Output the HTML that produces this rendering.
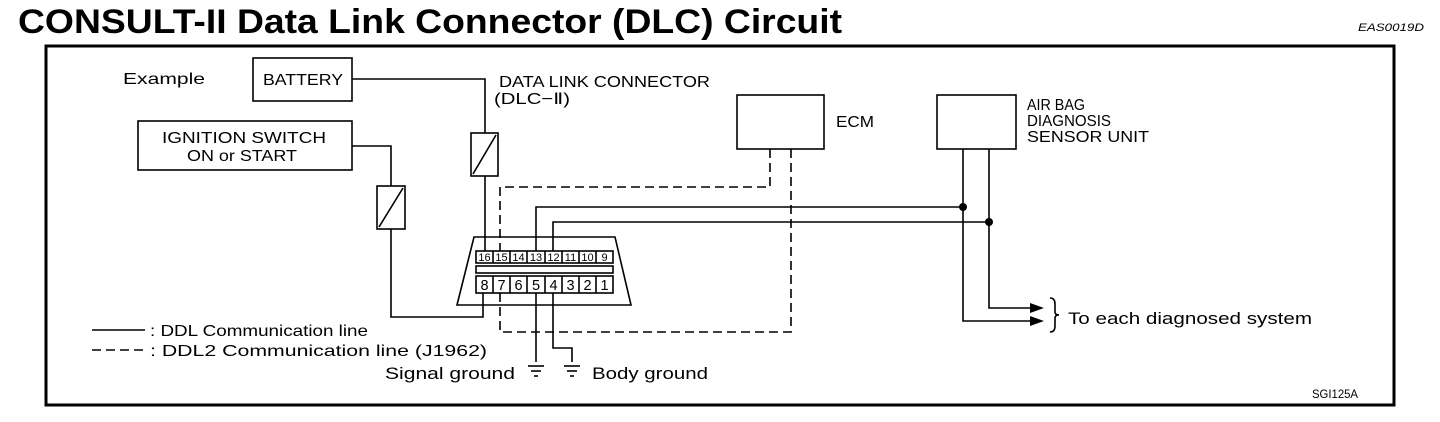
<!DOCTYPE html>
<html><head><meta charset="utf-8"><style>
body{margin:0;background:#fff;width:1440px;height:422px;overflow:hidden}
svg{display:block}
text{font-family:"Liberation Sans",sans-serif;fill:#000}
</style></head><body>
<svg width="1440" height="422" viewBox="0 0 1440 422">
<text x="18" y="33" font-size="34" font-weight="bold" textLength="824" lengthAdjust="spacingAndGlyphs">CONSULT-II Data Link Connector (DLC) Circuit</text>
<text x="1358" y="31" font-size="11" font-style="italic" textLength="66" lengthAdjust="spacingAndGlyphs">EAS0019D</text>
<rect x="46" y="46" width="1348" height="359" fill="none" stroke="#000" stroke-width="3"/>
<g fill="none" stroke="#000" stroke-width="1.6">
<rect x="253" y="58" width="99" height="43"/>
<rect x="138" y="121" width="214" height="49"/>
<rect x="737" y="95" width="87" height="54"/>
<rect x="937" y="95" width="79" height="54"/>
<polyline points="352,79 485,79 485,133"/>
<rect x="471" y="133" width="27" height="43"/>
<line x1="473" y1="174" x2="496" y2="135"/>
<line x1="485" y1="176" x2="485" y2="251"/>
<polyline points="352,146 391,146 391,186"/>
<rect x="377" y="186" width="28" height="43"/>
<line x1="379" y1="227" x2="403" y2="188"/>
<polyline points="391,229 391,317 483,317 483,293"/>
<polygon points="474,237 615,237 631,305 457,305"/>
<rect x="476" y="251" width="137" height="12"/>
<rect x="476" y="276" width="137" height="17"/>
<rect x="476" y="266" width="137" height="7"/>
<polyline points="536,251 536,207 963,207"/>
<polyline points="553,251 553,222 989,222"/>
<polyline points="963,149 963,321 1030,321"/>
<polyline points="989,149 989,308 1030,308"/>
<polyline points="536,293 536,362"/>
<polyline points="553,293 553,348 572,348 572,362"/>
<path d="M1050,298 q5,0 5,6 v8 q0,3 4,3 q-4,0 -4,3 v8 q0,6 -5,6"/>
<line x1="92" y1="330" x2="145" y2="330"/>
</g>
<g stroke="#000" stroke-width="1.6">
<line x1="528" y1="366" x2="544" y2="366"/><line x1="531" y1="371" x2="541" y2="371"/><line x1="534" y1="376" x2="538" y2="376"/>
<line x1="564" y1="366" x2="580" y2="366"/><line x1="567" y1="371" x2="577" y2="371"/><line x1="570" y1="376" x2="574" y2="376"/>
<line x1="493" y1="251" x2="493" y2="263"/><line x1="510" y1="251" x2="510" y2="263"/><line x1="527" y1="251" x2="527" y2="263"/><line x1="545" y1="251" x2="545" y2="263"/><line x1="562" y1="251" x2="562" y2="263"/><line x1="579" y1="251" x2="579" y2="263"/><line x1="596" y1="251" x2="596" y2="263"/>
<line x1="493" y1="276" x2="493" y2="293"/><line x1="510" y1="276" x2="510" y2="293"/><line x1="527" y1="276" x2="527" y2="293"/><line x1="545" y1="276" x2="545" y2="293"/><line x1="562" y1="276" x2="562" y2="293"/><line x1="579" y1="276" x2="579" y2="293"/><line x1="596" y1="276" x2="596" y2="293"/>
</g>
<g fill="none" stroke="#000" stroke-width="1.6" stroke-dasharray="9,5">
<polyline points="770,149 770,187 500,187 500,251"/>
<polyline points="500,293 500,332 791,332 791,149"/>
<line x1="92" y1="350" x2="145" y2="350"/>
</g>
<circle cx="963" cy="207" r="4"/><circle cx="989" cy="222" r="4"/>
<polygon points="1030,303 1044,308 1030,313"/><polygon points="1030,316 1044,321 1030,326"/>
<g font-size="11" text-anchor="middle">
<text x="484.5" y="261">16</text><text x="501.5" y="261">15</text><text x="518.5" y="261">14</text><text x="536" y="261">13</text><text x="553.5" y="261">12</text><text x="570.5" y="261">11</text><text x="587.5" y="261">10</text><text x="604.5" y="261">9</text>
</g>
<g font-size="14.5" text-anchor="middle">
<text x="484.5" y="290">8</text><text x="501.5" y="290">7</text><text x="518.5" y="290">6</text><text x="536" y="290">5</text><text x="553.5" y="290">4</text><text x="570.5" y="290">3</text><text x="587.5" y="290">2</text><text x="604.5" y="290">1</text>
</g>
<g font-size="16">
<text x="123" y="84" textLength="82" lengthAdjust="spacingAndGlyphs">Example</text>
<text x="263" y="85" textLength="80" lengthAdjust="spacingAndGlyphs">BATTERY</text>
<text x="162" y="143" textLength="164" lengthAdjust="spacingAndGlyphs">IGNITION SWITCH</text>
<text x="187" y="161" textLength="110" lengthAdjust="spacingAndGlyphs">ON or START</text>
<text x="499" y="87" textLength="211" lengthAdjust="spacingAndGlyphs">DATA LINK CONNECTOR</text>
<text x="494" y="104" textLength="76" lengthAdjust="spacingAndGlyphs">(DLC−Ⅱ)</text>
<text x="836" y="127" textLength="38" lengthAdjust="spacingAndGlyphs">ECM</text>
<text x="1027" y="110" textLength="58" lengthAdjust="spacingAndGlyphs">AIR BAG</text>
<text x="1027" y="126" textLength="84" lengthAdjust="spacingAndGlyphs">DIAGNOSIS</text>
<text x="1027" y="142" textLength="122" lengthAdjust="spacingAndGlyphs">SENSOR UNIT</text>
<text x="150" y="336" textLength="218" lengthAdjust="spacingAndGlyphs">: DDL Communication line</text>
<text x="150" y="356" textLength="337" lengthAdjust="spacingAndGlyphs">: DDL2 Communication line (J1962)</text>
<text x="385" y="379" font-size="17" textLength="130" lengthAdjust="spacingAndGlyphs">Signal ground</text>
<text x="592" y="379" font-size="17" textLength="116" lengthAdjust="spacingAndGlyphs">Body ground</text>
<text x="1068" y="324" font-size="17" textLength="244" lengthAdjust="spacingAndGlyphs">To each diagnosed system</text>
<text x="1312" y="398" font-size="12" textLength="46" lengthAdjust="spacingAndGlyphs">SGI125A</text>
</g>
</svg>
</body></html>
